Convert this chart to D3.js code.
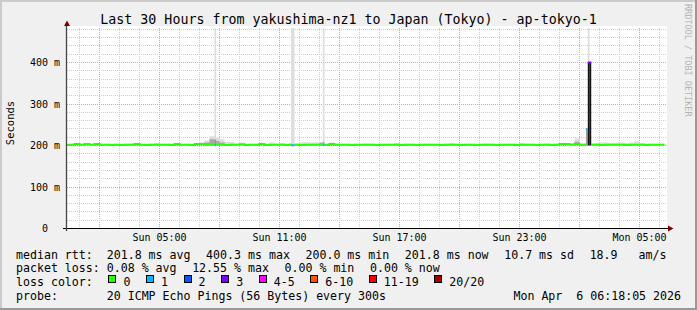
<!DOCTYPE html>
<html>
<head>
<meta charset="utf-8">
<script src="https://cdn.jsdelivr.net/npm/d3@7"></script>
<style>
body { margin: 0; background: #f0f0f0; }
svg text { font-family: "DejaVu Sans Mono", monospace; white-space: pre; }
</style>
</head>
<body>
<div id="chart"></div>
<script>
// ---- data ----
var title = "Last 30 Hours from yakushima-nz1 to Japan (Tokyo) - ap-tokyo-1";
var startTime = "2026-04-05T00:22:30Z";
var endTime = "2026-04-06T06:22:30Z";
var baseStart = "2026-04-05T00:15:00Z";   // 15 min steps

var medianRtt = [
  201.5, 201.8, 203.9, 201.6, 203.6, 201.7, 203.5, 201.6, 201.8, 201.5,
  201.7, 201.5, 201.8, 201.6, 203.4, 201.7, 201.5, 201.8, 201.6, 201.7,
  201.8, 201.5, 203.5, 201.6, 201.7, 201.5, 203.6, 203.4, 201.8, 201.7,
  201.6, 201.8, 201.5, 201.7, 201.6, 203.3, 201.5, 201.7, 201.6, 203.4,
  201.5, 201.7, 201.6, 201.8, 201.5, 201.6, 201.7, 201.5, 201.8, 201.6,
  201.7, 201.6, 201.5, 203.5, 201.7, 201.6, 201.8, 201.5, 201.7, 201.6,
  201.8, 201.6, 201.5, 201.7, 201.6, 201.8, 201.6, 201.5, 201.7, 201.6,
  201.5, 201.7, 201.6, 201.8, 201.6, 201.5, 201.7, 201.6, 201.8, 201.5,
  201.6, 201.7, 201.5, 201.8, 201.6, 201.7, 201.5, 201.6, 201.8, 201.7,
  201.5, 201.7, 201.6, 201.8, 201.5, 201.6, 201.7, 201.5, 201.6, 203.5,
  203.4, 201.6, 203.6, 201.7, 201.8, 201.6, 201.7, 201.5, 201.6, 201.7,
  201.6, 201.8, 201.5, 201.7, 201.6, 201.8, 201.5, 201.7, 201.6, 201.8
];
// slowest ping per step (light smoke)
var smokeTop = [
  204, 204, 206, 204, 205, 204, 205, 204, 204, 204,
  204, 204, 204, 205, 204, 204, 204, 204, 206, 204,
  204, 204, 205, 204, 204, 204, 205, 207, 212, 222,
  218, 215, 209, 208, 205, 207, 204, 204, 204, 206,
  204, 207, 205, 206, 205, 206, 205, 207, 208, 207,
  208, 209, 206, 207, 205, 204, 204, 204, 204, 204,
  205, 204, 204, 204, 204, 204, 206, 204, 204, 204,
  204, 204, 205, 204, 204, 204, 204, 206, 204, 204,
  204, 204, 204, 204, 205, 204, 204, 204, 204, 204,
  204, 206, 204, 204, 204, 204, 205, 204, 204, 204,
  205, 206, 217, 205, 206, 205, 206, 207, 207, 206,
  207, 207, 206, 207, 210, 206, 205, 204, 204, 204
];
// denser smoke (several pings)
var smokeMid = [
  202, 202, 202, 202, 202, 202, 202, 202, 202, 202,
  202, 202, 202, 202, 202, 202, 202, 202, 202, 202,
  202, 202, 202, 202, 202, 202, 202, 202, 207, 215,
  211, 207, 202, 202, 202, 202, 202, 202, 202, 202,
  202, 202, 202, 202, 202, 202, 202, 202, 202, 202,
  202, 206, 202, 202, 202, 202, 202, 202, 202, 202,
  202, 202, 202, 202, 202, 202, 202, 202, 202, 202,
  202, 202, 202, 202, 202, 202, 202, 202, 202, 202,
  202, 202, 202, 202, 202, 202, 202, 202, 202, 202,
  202, 202, 202, 202, 202, 202, 202, 202, 202, 202,
  202, 202, 209, 202, 202, 202, 202, 202, 202, 202,
  202, 202, 202, 202, 202, 202, 202, 202, 202, 202
];

// 5 min steps with loss / outliers
var spikeTimes = ["2026-04-05T07:45:00Z", "2026-04-05T11:35:00Z", "2026-04-05T11:40:00Z",
                  "2026-04-05T13:10:00Z", "2026-04-06T02:20:00Z", "2026-04-06T02:25:00Z",
                  "2026-04-06T02:30:00Z"];
var spikeMedian = [200.9, 200.6, 200.6, 201.2, 240.0, 400.3, 399.8];
var spikeLow = [200.5, 200.3, 200.3, 200.6, 200.2, 200.2, 200.4];
var spikeBandTop = [214, 203, 203, 209, 240, 400.3, 399.8];
var spikeBandPings = [8, 3, 3, 6, 7, 20, 20];
var spikeMax = [560, 560, 560, 560, 240, 560, 399.8];
var spikeLoss = [1, 1, 1, 1, 1, 3, 3];

var lossBins = [0, 1, 2, 3, 5, 10, 19, 20];
var lossLabels = ["0", "1", "2", "3", "4-5", "6-10", "11-19", "20/20"];
var lossColors = ["#26ff00", "#00b8ff", "#0059ff", "#7e00ff", "#ff00ff", "#ff5500", "#ff0000", "#a10000"];

var rttStats = [201.8, 400.3, 200.0, 201.8];
var rttSd = 10.7, rttAmps = 18.9;
var lossStats = [0.08, 12.55, 0.00, 0.00];
var probeText = "20 ICMP Echo Pings (56 Bytes) every 300s";
var stampText = "Mon Apr  6 06:18:05 2026";

// ---- chart ----
var W = 697, H = 310;
var svg = d3.select("#chart").append("svg").attr("width", W).attr("height", H);

svg.append("rect").attr("width", W).attr("height", H).attr("fill", "#f0f0f0");
svg.append("rect").attr("x", 0).attr("y", 0).attr("width", W).attr("height", 2).attr("fill", "#cbcbcb");
svg.append("rect").attr("x", 0).attr("y", 0).attr("width", 2).attr("height", H).attr("fill", "#cbcbcb");
svg.append("rect").attr("x", 0).attr("y", H - 2).attr("width", W).attr("height", 2).attr("fill", "#999");
svg.append("rect").attr("x", W - 2).attr("y", 0).attr("width", 2).attr("height", H).attr("fill", "#999");

var x = d3.scaleUtc().domain([new Date(startTime), new Date(endTime)]).range([67, 667]);
var y = d3.scaleLinear().domain([0, 200 / 0.415]).range([228.5, 28.5]);
function crisp(v) { return Math.round(v - 0.5) + 0.5; }

svg.append("rect").attr("x", 67).attr("y", 26).attr("width", 600).attr("height", 202).attr("fill", "#fff");

// grid
var grid = svg.append("g").attr("stroke-dasharray", "1,1").attr("stroke-width", 1);
var hours = d3.utcHour.range(x.domain()[0], x.domain()[1]);
hours.forEach(function(h) {
  var major = (h.getUTCHours() + 1) % 3 === 0;
  grid.append("line")
    .attr("x1", crisp(x(h))).attr("x2", crisp(x(h)))
    .attr("y1", 28).attr("y2", 228)
    .attr("stroke", major ? "#e6a0a0" : "#cfcfcf");
});
d3.range(20, 481, 20).forEach(function(v) {
  var major = v % 100 === 0;
  grid.append("line")
    .attr("x1", 67).attr("x2", 667)
    .attr("y1", crisp(y(v))).attr("y2", crisp(y(v)))
    .attr("stroke", major ? "#e6a0a0" : "#cfcfcf");
});

// build 5 min table
var t0Base = +new Date(baseStart);
var rows = [];
medianRtt.forEach(function(m, i) {
  for (var k = 0; k < 3; k++) {
    var t = t0Base + (i * 15 + k * 5) * 60000;
    var r = { t0: new Date(t), t1: new Date(t + 300000), med: m, low: m, top: smokeTop[i],
              mid: smokeMid[i], loss: 0, band: null };
    var j = spikeTimes.findIndex(function(s) { return +new Date(s) === t; });
    if (j >= 0) {
      r.med = spikeMedian[j]; r.low = spikeLow[j]; r.top = spikeMax[j];
      r.mid = r.med; r.loss = spikeLoss[j];
      r.band = { low: spikeLow[j], top: spikeBandTop[j], pings: spikeBandPings[j] };
    }
    rows.push(r);
  }
});

var shade = d3.scaleLinear().domain([1, 20]).range(["#dcdcdc", "#151515"]);

svg.append("clipPath").attr("id", "plot").append("rect")
  .attr("x", 67).attr("y", 28).attr("width", 600).attr("height", 200.5);
var plot = svg.append("g").attr("clip-path", "url(#plot)");

function stepPoints(fy0, fy1) {
  var pts = [];
  rows.forEach(function(r) {
    pts.push({ x: x(r.t0), y0: y(fy0(r)), y1: y(fy1(r)) });
    pts.push({ x: x(r.t1), y0: y(fy0(r)), y1: y(fy1(r)) });
  });
  return pts;
}
var area = d3.area().x(function(p) { return p.x; }).y0(function(p) { return p.y0; }).y1(function(p) { return p.y1; });

plot.append("path")
  .attr("d", area(stepPoints(function(r) { return r.med; }, function(r) { return Math.max(r.top, r.med); })))
  .attr("fill", shade(1));
plot.append("path")
  .attr("d", area(stepPoints(function(r) { return r.low; }, function(r) { return Math.max(r.mid, r.low); })))
  .attr("fill", shade(6));

plot.selectAll("rect.band")
  .data(rows.filter(function(r) { return r.band; }))
  .enter().append("rect")
  .attr("class", "band")
  .attr("x", function(r) { return x(r.t0); })
  .attr("width", function(r) { return x(r.t1) - x(r.t0); })
  .attr("y", function(r) { return y(r.band.top); })
  .attr("height", function(r) { return y(r.band.low) - y(r.band.top); })
  .attr("fill", function(r) { return shade(r.band.pings); });

// median line coloured by loss
function lossClass(n) { return lossBins.findIndex(function(b) { return n <= b; }); }
var medPts = [];
rows.forEach(function(r) {
  var c = lossClass(r.loss);
  medPts.push({ x: x(r.t0), y: y(r.med), c: c });
  medPts.push({ x: x(r.t1), y: y(r.med), c: c });
});
lossColors.forEach(function(col, c) {
  if (!medPts.some(function(p) { return p.c === c; })) return;
  var line = d3.line().x(function(p) { return p.x; }).y(function(p) { return p.y; })
    .defined(function(p) { return p.c === c; });
  plot.append("path").attr("d", line(medPts)).attr("fill", "none")
    .attr("stroke", col).attr("stroke-width", 2);
});

// axes
svg.append("line").attr("x1", 63).attr("x2", 669).attr("y1", 228.5).attr("y2", 228.5)
  .attr("stroke", "#000").attr("stroke-width", 1);
svg.append("line").attr("x1", 66.5).attr("x2", 66.5).attr("y1", 231).attr("y2", 25)
  .attr("stroke", "#444").attr("stroke-width", 1.3);
svg.append("polygon").attr("points", "64,26 70,26 67,20.5").attr("fill", "#7f0000");
svg.append("polygon").attr("points", "668,225.5 668,231.5 673.5,228.5").attr("fill", "#7f0000");

// x labels
var fmt = d3.utcFormat("%a %H:%M");
hours.filter(function(h) { return (h.getUTCHours() + 1) % 6 === 0; }).forEach(function(h) {
  svg.append("text").attr("x", x(h)).attr("y", 241)
    .attr("text-anchor", "middle").attr("font-size", "10px").text(fmt(h));
});

// y labels
[0, 100, 200, 300, 400].forEach(function(v) {
  svg.append("text").attr("x", 48).attr("y", y(v) + 3.5)
    .attr("text-anchor", "end").attr("font-size", "10px").text(String(v));
  if (v > 0) svg.append("text").attr("x", 54).attr("y", y(v) + 3.5)
    .attr("font-size", "10px").text("m");
});

svg.append("text").attr("transform", "translate(14,123) rotate(-90)")
  .attr("text-anchor", "middle").attr("font-size", "10.5px").text("Seconds");

svg.append("text").attr("x", 348.5).attr("y", 24).attr("text-anchor", "middle")
  .attr("font-size", "13.3px").text(title);

svg.append("text").attr("transform", "translate(685,4) rotate(90)")
  .attr("font-size", "8.5px").attr("fill", "#b4b4b4").text("RRDTOOL / TOBI OETIKER");

// legend
var f1 = d3.format(".1f"), f2 = d3.format(".2f");
var gap = 15.6, fs = "11.6px";
function legendLine(items, yy) {
  var xx = 16;
  items.forEach(function(s) {
    var t = svg.append("text").attr("x", xx).attr("y", yy).attr("font-size", fs).text(s);
    xx += t.node().getComputedTextLength() + gap;
  });
}
legendLine([
  "median rtt:  " + f1(rttStats[0]) + " ms avg",
  f1(rttStats[1]) + " ms max",
  f1(rttStats[2]) + " ms min",
  f1(rttStats[3]) + " ms now",
  f1(rttSd) + " ms sd",
  f1(rttAmps) + "   am/s"
], 258.5);
legendLine([
  "packet loss: " + f2(lossStats[0]) + " % avg",
  f2(lossStats[1]) + " % max",
  f2(lossStats[2]) + " % min",
  f2(lossStats[3]) + " % now"
], 272.2);

var lc = svg.append("text").attr("x", 16).attr("y", 285.9).attr("font-size", fs).text("loss color:");
var lx = 16 + lc.node().getComputedTextLength() + gap;
lossLabels.forEach(function(lab, i) {
  svg.append("rect").attr("x", Math.round(lx) + 0.5).attr("y", 275.5).attr("width", 7).attr("height", 7)
    .attr("fill", lossColors[i]).attr("stroke", "#000").attr("stroke-width", 1);
  var t = svg.append("text").attr("x", lx + 15).attr("y", 285.9).attr("font-size", fs).text(lab);
  lx += 15 + t.node().getComputedTextLength() + gap;
});

svg.append("text").attr("x", 16).attr("y", 299.6).attr("font-size", fs)
  .text("probe:       " + probeText);
svg.append("text").attr("x", 681).attr("y", 299.6).attr("font-size", fs)
  .attr("text-anchor", "end").text(stampText);
</script>
</body>
</html>
